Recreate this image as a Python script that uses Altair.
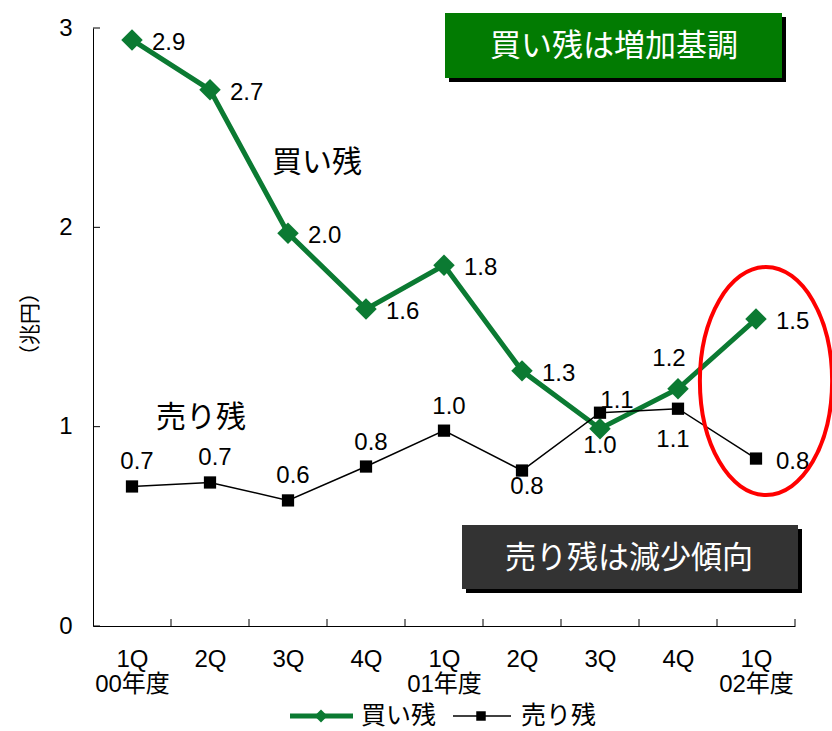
import altair as alt
import pandas as pd

# ---- data -------------------------------------------------------------
quarters = ["1Q", "2Q", "3Q", "4Q", "1Q", "2Q", "3Q", "4Q", "1Q"]
fiscal_years = ["00年度", "", "", "", "01年度", "", "", "", "02年度"]
buy_remaining = [2.94, 2.69, 1.97, 1.59, 1.81, 1.28, 0.99, 1.19, 1.54]   # 買い残 (兆円)
sell_remaining = [0.70, 0.72, 0.63, 0.80, 0.98, 0.78, 1.07, 1.09, 0.84]  # 売り残 (兆円)
buy_label_place = ["right", "right", "right", "right", "right", "right",
                   "below_near", "above_left", "right"]
sell_label_place = ["above", "above", "above", "above", "above", "below",
                    "above_right", "below_far", "right"]
y_ticks = [0, 1, 2, 3]

BUY_NAME = "買い残"
SELL_NAME = "売り残"
Y_TITLE = "（兆円）"
BUY_NOTE = "買い残は増加基調"
SELL_NOTE = "売り残は減少傾向"

# ---- styling ----------------------------------------------------------
FONT = "Liberation Sans, Noto Sans CJK JP"
CJK_FONT = "Noto Sans CJK JP"
GREEN = "#0B7A32"
BOX_GREEN = "#027B02"
BOX_DARK = "#333333"
W, H = 702, 598
NUM_SIZE = 24

# label offsets: (dx, dy, align)
PLACES = {
    "right": (20, 3, "left"),
    "below_near": (0, 17, "center"),
    "above_left": (-9, -30, "center"),
    "above": (5, -24, "center"),
    "below": (5, 16, "center"),
    "above_right": (17, -12, "center"),
    "below_far": (-5, 31, "center"),
}

n = len(quarters)
df = pd.DataFrame({
    "pos": [i + 0.5 for i in range(n)] * 2,
    "series": [BUY_NAME] * n + [SELL_NAME] * n,
    "value": buy_remaining + sell_remaining,
    "place": buy_label_place + sell_label_place,
})

label_lines = [q + ("|" + y if y else "") for q, y in zip(quarters, fiscal_years)]
label_array = "[" + ",".join("'" + s + "'" for s in label_lines) + "]"

x_scale = alt.Scale(domain=[0, n], nice=False, zero=False)
x_axis = alt.Axis(
    values=[i + 0.5 for i in range(n)],
    labelExpr=f"split({label_array}[floor(datum.value)], '|')",
    tickSize=0, grid=False, title=None, domainColor="black", domainWidth=1,
    labelFontSize=24, labelPadding=21, labelLineHeight=25, labelColor="black",
    labelFont=FONT, labelBaseline="top",
)
y_scale = alt.Scale(domain=[0, 3], nice=False)
y_axis = alt.Axis(
    values=y_ticks, tickSize=0, grid=False, domainColor="black", domainWidth=1,
    labelFontSize=NUM_SIZE, labelPadding=21, labelColor="black", labelFont=FONT,
    title=None,
)

X = alt.X("pos:Q", scale=x_scale, axis=x_axis)
Y = alt.Y("value:Q", scale=y_scale, axis=y_axis)

base = alt.Chart(df)

buy_line = base.transform_filter(alt.datum.series == BUY_NAME).mark_line(
    color=GREEN, strokeWidth=5).encode(x=X, y=Y)
buy_pts = base.transform_filter(alt.datum.series == BUY_NAME).mark_point(
    shape="diamond", size=460, filled=True, color=GREEN, opacity=1).encode(x=X, y=Y)
sell_line = base.transform_filter(alt.datum.series == SELL_NAME).mark_line(
    color="black", strokeWidth=1.5).encode(x=X, y=Y)
sell_pts = base.transform_filter(alt.datum.series == SELL_NAME).mark_point(
    shape="square", size=150, filled=True, color="black", opacity=1).encode(x=X, y=Y)

label_layers = []
for name, (dx, dy, align) in PLACES.items():
    label_layers.append(
        base.transform_filter(alt.datum.place == name).mark_text(
            dx=dx, dy=dy, align=align, baseline="middle", fontSize=NUM_SIZE,
            font=FONT, color="black",
        ).encode(x=X, y=Y, text=alt.Text("value:Q", format=".1f"))
    )

# inward tick marks on both axes
x_tick_df = pd.DataFrame({"b": list(range(1, n + 1))})
x_ticks = alt.Chart(x_tick_df).mark_rule(color="black", strokeWidth=1).encode(
    x=alt.X("b:Q", scale=x_scale, axis=x_axis),
    y=alt.value(H), y2=alt.value(H - 7))
y_tick_df = pd.DataFrame({"t": y_ticks})
y_tick_marks = alt.Chart(y_tick_df).mark_rule(color="black", strokeWidth=1).encode(
    y=alt.Y("t:Q", scale=y_scale, axis=y_axis),
    x=alt.value(0), x2=alt.value(7))

one = alt.Data(values=[{}])

# vertical unit title beside the y axis
y_title = alt.Chart(one).mark_text(
    text=Y_TITLE, angle=270, fontSize=21, font=CJK_FONT, color="black",
    align="center", baseline="middle").encode(x=alt.value(-62), y=alt.value(296))

def box(x0, x1, y0, y1, fill, text, tx, ty):
    shadow = alt.Chart(one).mark_rect(color="black").encode(
        x=alt.value(x0 + 4), x2=alt.value(x1 + 4),
        y=alt.value(y0 + 4), y2=alt.value(y1 + 4))
    rect = alt.Chart(one).mark_rect(color=fill).encode(
        x=alt.value(x0), x2=alt.value(x1), y=alt.value(y0), y2=alt.value(y1))
    label = alt.Chart(one).mark_text(
        text=text, color="white", fontSize=31, font=CJK_FONT,
        align="center", baseline="middle").encode(x=alt.value(tx), y=alt.value(ty))
    return [shadow, rect, label]

boxes = (box(352, 689, -15, 50, BOX_GREEN, BUY_NOTE, 521, 19)
         + box(369, 705, 497, 561, BOX_DARK, SELL_NOTE, 536, 531))

series_notes = [
    alt.Chart(one).mark_text(text=BUY_NAME, fontSize=30, font=CJK_FONT, color="black",
                             align="center", baseline="middle").encode(
        x=alt.value(224), y=alt.value(135)),
    alt.Chart(one).mark_text(text=SELL_NAME, fontSize=30, font=CJK_FONT, color="black",
                             align="center", baseline="middle").encode(
        x=alt.value(108), y=alt.value(390)),
]

# red ellipse highlighting the latest quarter
ellipse_path = ("M 0.58 0 C 0.58 0.5523 0.3203 1 0 1 C -0.3203 1 -0.58 0.5523 -0.58 0 "
                "C -0.58 -0.5523 -0.3203 -1 0 -1 C 0.3203 -1 0.58 -0.5523 0.58 0 Z")
ellipse = alt.Chart(one).mark_point(
    shape=ellipse_path, size=228 ** 2, filled=False, stroke="#FF0000",
    strokeWidth=4, opacity=1).encode(x=alt.value(673), y=alt.value(353))

# legend drawn below the axis
LY = 688
legend = [
    alt.Chart(one).mark_rule(color=GREEN, strokeWidth=5).encode(
        x=alt.value(197), x2=alt.value(260), y=alt.value(LY)),
    alt.Chart(one).mark_point(shape="diamond", size=170, filled=True, color=GREEN,
                              opacity=1).encode(x=alt.value(228), y=alt.value(LY)),
    alt.Chart(one).mark_text(text=BUY_NAME, fontSize=25, font=CJK_FONT, color="black",
                             align="left", baseline="middle").encode(
        x=alt.value(268), y=alt.value(LY)),
    alt.Chart(one).mark_rule(color="black", strokeWidth=1.5).encode(
        x=alt.value(360), x2=alt.value(418), y=alt.value(LY)),
    alt.Chart(one).mark_point(shape="square", size=90, filled=True, color="black",
                              opacity=1).encode(x=alt.value(388), y=alt.value(LY)),
    alt.Chart(one).mark_text(text=SELL_NAME, fontSize=25, font=CJK_FONT, color="black",
                             align="left", baseline="middle").encode(
        x=alt.value(428), y=alt.value(LY)),
]

chart = alt.layer(
    x_ticks, y_tick_marks, buy_line, buy_pts, sell_line, sell_pts,
    *label_layers, y_title, *series_notes, *boxes, ellipse, *legend,
).properties(
    width=W, height=H,
    autosize=alt.AutoSizeParams(type="none"),
    padding={"left": 93, "top": 28, "right": 37, "bottom": 105},
    background="white",
).configure_view(stroke=None)

chart.save("out.html", embed_options={"renderer": "svg", "actions": False})
